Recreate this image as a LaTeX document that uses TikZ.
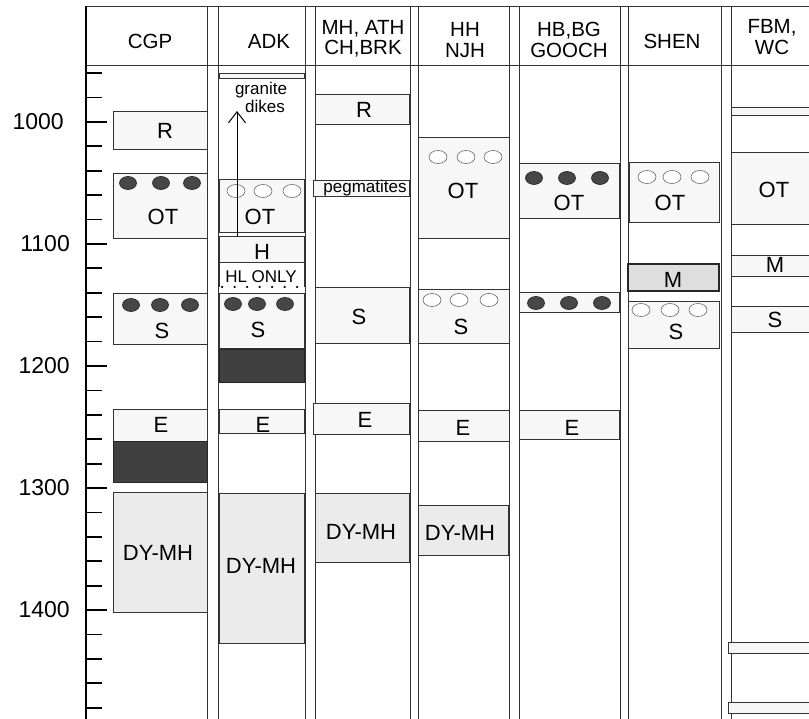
\documentclass[tikz,border=0pt]{standalone}
\usepackage{fontspec}
\setmainfont{Liberation Sans}
\usetikzlibrary{arrows.meta, positioning}

\begin{document}
\begin{tikzpicture}[
    x=1pt, y=-1pt,
    >={Straight Barb[length=11pt, width=17pt]},
    frame/.style={draw=black!80, line width=0.9pt},
    unitbox/.style={draw=black!80, line width=0.8pt, fill=black!3},
    dybox/.style={unitbox, fill=black!8},
    darkbox/.style={draw=black!85, line width=0.8pt, fill=black!75},
    mbox/.style={draw=black!85, line width=1.5pt, fill=black!13},
    fulldot/.style={draw=black!90, fill=black!72, line width=0.6pt},
    opendot/.style={draw=black!60, fill=white, line width=0.6pt},
    lbl/.style={font=\fontsize{22}{22}\selectfont, inner sep=0pt},
    small/.style={font=\fontsize{17}{17}\selectfont, inner sep=0pt},
    head/.style={font=\fontsize{20.5}{20.5}\selectfont, align=center, inner sep=0pt},
    agelbl/.style={font=\fontsize{23}{23}\selectfont, inner sep=0pt, anchor=east}
  ]
  \useasboundingbox (0,0) rectangle (809,719);

  % column frames
  \draw[frame] (86,6) -- (812,6);
  \draw[frame] (86,65) -- (812,65);
  \foreach \x in {207,218,305,315,410,418,509,519,620,628,721,731}
    \draw[frame] (\x,6) -- (\x,719);

  % age axis
  \draw[line width=2pt] (86,6) -- (86,719);
  \foreach \m in {960,980,...,1480}
    \draw[line width=1.8pt] (86,{122+(\m-1000)*1.22}) -- (102,{122+(\m-1000)*1.22});
  \foreach \m in {1000,1100,...,1400}
    \draw[line width=1.8pt] (86,{122+(\m-1000)*1.22}) -- (107,{122+(\m-1000)*1.22});
  \node[agelbl] (a1000) at (64,122) {1000};
  \foreach \m in {1100,1200,...,1400}
    \node[agelbl] (a\m) at (70,{122+(\m-1000)*1.22}) {\m};

  % headers
  \node[head] (cgp) at (150,41) {CGP};
  \node[head] (adk) at (269,41) {ADK};
  \node[head] (mh) at (363,39) {MH, ATH\\CH,BRK};
  \node[head] (hh) at (465,40) {HH\\NJH};
  \node[head] (hb) at (569,40) {HB,BG\\GOOCH};
  \node[head] (shen) at (672,41) {SHEN};
  \node[head] (fbm) at (772,37) {FBM,\\WC};

  % CGP
  \draw[unitbox] (113,111) rectangle (207,149);
  \node[lbl] (cgpR) at (165,131) {R};
  \draw[unitbox] (113,173) rectangle (207,238);
  \foreach \x in {128,161,192}
    \draw[fulldot] (\x,183) ellipse [x radius=8.5pt, y radius=6.5pt];
  \node[lbl] (cgpOT) at (163,217) {OT};
  \draw[unitbox] (113,293) rectangle (207,344);
  \foreach \x in {131,160,190}
    \draw[fulldot] (\x,305) ellipse [x radius=8.5pt, y radius=6.5pt];
  \node[lbl] (cgpS) at (162,331) {S};
  \draw[unitbox] (113,409) rectangle (207,441);
  \node[lbl] (cgpE) at (161,425) {E};
  \draw[darkbox] (113,441) rectangle (207,482);
  \draw[dybox] (113,492) rectangle (207,612);
  \node[lbl] (cgpDY) at (158,553) {DY-MH};

  % ADK
  \draw[unitbox] (219,73) rectangle (304,78);
  \node[small, anchor=base] (granite) at (261,95) {granite};
  \node[small, anchor=base] (dikes) at (265,113) {dikes};
  \draw[unitbox] (219,179) rectangle (304,232);
  \foreach \x in {236,263,292}
    \draw[opendot] (\x,191) ellipse [x radius=9pt, y radius=6.5pt];
  \node[lbl] (adkOT) at (260,217) {OT};
  \draw[unitbox] (219,236) rectangle (304,262);
  \node[lbl] (adkH) at (262,252) {H};
  \draw[frame, line width=0.8pt] (219,262) -- (219,287) (304,262) -- (304,287);
  \draw[line width=2.5pt, line cap=round, dash pattern=on 0pt off 12.5pt]
    (222,287) -- (298,287);
  \node[small] (hlonly) at (261,277) {HL ONLY};
  \coordinate (dikeTail) at (237,237);
  \coordinate (dikeHead) at (237,111);
  \draw[->, line width=1pt] (dikeTail) -- (dikeHead);
  \draw[unitbox] (219,293) rectangle (304,348);
  \foreach \x in {233,257,285}
    \draw[fulldot] (\x,304) ellipse [x radius=8.5pt, y radius=6.5pt];
  \node[lbl] (adkS) at (258,330) {S};
  \draw[darkbox] (219,349) rectangle (304,382);
  \draw[unitbox] (219,409) rectangle (304,433);
  \node[lbl] (adkE) at (263,425) {E};
  \draw[dybox] (219,493) rectangle (304,643);
  \node[lbl] (adkDY) at (261,566) {DY-MH};

  % MH, ATH, CH, BRK
  \draw[unitbox] (315,94) rectangle (409,124);
  \node[lbl] (mhR) at (364,110) {R};
  \draw[unitbox] (313,180) rectangle (409,196);
  \node[small] (pegm) at (365,188) {pegmatites};
  \draw[unitbox] (315,287) rectangle (409,343);
  \node[lbl] (mhS) at (359,317) {S};
  \draw[unitbox] (313,403) rectangle (409,434);
  \node[lbl] (mhE) at (365,420) {E};
  \draw[dybox] (315,493) rectangle (409,562);
  \node[lbl] (mhDY) at (361,532) {DY-MH};

  % HH, NJH
  \draw[unitbox] (418,137) rectangle (509,238);
  \foreach \x in {438,466,493}
    \draw[opendot] (\x,157) ellipse [x radius=9pt, y radius=6.5pt];
  \node[lbl] (hhOT) at (463,191) {OT};
  \draw[unitbox] (418,289) rectangle (509,343);
  \foreach \x in {432,459,489}
    \draw[opendot] (\x,300) ellipse [x radius=9pt, y radius=6.5pt];
  \node[lbl] (hhS) at (461,327) {S};
  \draw[unitbox] (418,410) rectangle (509,441);
  \node[lbl] (hhE) at (463,428) {E};
  \draw[dybox] (418,505) rectangle (508,555);
  \node[lbl] (hhDY) at (460,533) {DY-MH};

  % HB, BG, GOOCH
  \draw[unitbox] (519,163) rectangle (619,218);
  \foreach \x in {534,567,600}
    \draw[fulldot] (\x,178) ellipse [x radius=8.5pt, y radius=6.5pt];
  \node[lbl] (hbOT) at (569,203) {OT};
  \draw[unitbox] (519,292) rectangle (619,312);
  \foreach \x in {536,569,602}
    \draw[fulldot] (\x,303) ellipse [x radius=8.5pt, y radius=6.5pt];
  \draw[unitbox] (519,410) rectangle (619,439);
  \node[lbl] (hbE) at (572,428) {E};

  % SHEN
  \draw[unitbox] (629,162) rectangle (719,222);
  \foreach \x in {647,672,700}
    \draw[opendot] (\x,177) ellipse [x radius=9pt, y radius=6.5pt];
  \node[lbl] (shenOT) at (670,203) {OT};
  \draw[mbox] (628,264) rectangle (719,291);
  \node[lbl] (shenM) at (673,280) {M};
  \draw[unitbox] (628,301) rectangle (719,348);
  \foreach \x in {641,670,698}
    \draw[opendot] (\x,310) ellipse [x radius=9pt, y radius=6.5pt];
  \node[lbl] (shenS) at (676,332) {S};

  % FBM, WC
  \draw[unitbox] (731,107) rectangle (815,115);
  \draw[unitbox] (731,152) rectangle (815,224);
  \node[lbl] (fbmOT) at (774,190) {OT};
  \draw[unitbox] (731,255) rectangle (815,276);
  \node[lbl] (fbmM) at (775,265) {M};
  \draw[unitbox] (731,306) rectangle (815,332);
  \node[lbl] (fbmS) at (775,320) {S};
  \draw[unitbox] (728,642) rectangle (815,653);
  \draw[unitbox] (728,702) rectangle (815,713);
\end{tikzpicture}
\end{document}
